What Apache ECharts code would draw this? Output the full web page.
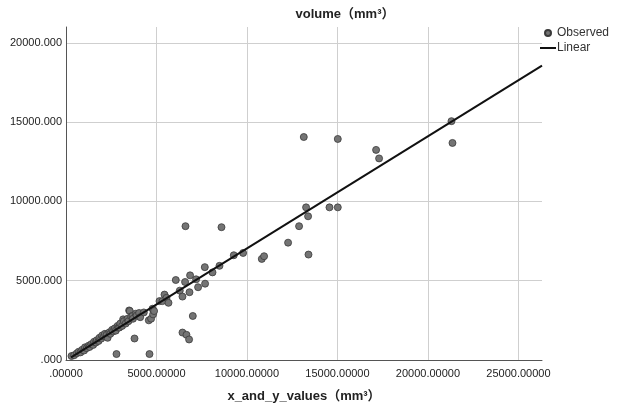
<!DOCTYPE html>
<html>
<head>
<meta charset="utf-8">
<script src="https://cdn.jsdelivr.net/npm/echarts@6/dist/echarts.min.js"></script>
<style>
  html, body { margin: 0; padding: 0; background: #fff; }
  #chart { width: 627px; height: 408px; }
</style>
</head>
<body>
<div id="chart"></div>
<script>
// observed points [x_and_y_values, volume]
const observed = [
  [304, 250], [450, 300], [600, 420], [700, 520], [800, 480], [900, 650],
  [1000, 600], [1050, 800], [1150, 750], [1250, 900], [1300, 820], [1400, 1000],
  [1500, 950], [1550, 1150], [1650, 1100], [1700, 1250], [1800, 1200], [1850, 1400],
  [1950, 1350], [2000, 1550], [2100, 1500], [2150, 1650], [2250, 1600], [2300, 1400],
  [2400, 1750], [2450, 1650], [2550, 1900], [2600, 1800], [2700, 2000], [2750, 1850],
  [2790, 375], [2850, 2150], [2901, 2044], [2950, 2050], [3000, 2300], [3100, 2150],
  [3157, 2563], [3200, 2450], [3300, 2300], [3400, 2600], [3450, 2450], [3489, 3125],
  [3525, 3088], [3600, 2750], [3674, 2775], [3700, 2600], [3785, 1356], [3856, 2919],
  [3900, 2800], [4039, 2963], [4100, 2700], [4300, 3000], [4575, 2500], [4613, 375],
  [4702, 2606], [4779, 3231], [4812, 2875], [4867, 3088], [5166, 3713], [5331, 3713],
  [5442, 4125], [5552, 3919], [5663, 3606], [6066, 5044], [6287, 4375], [6436, 4000],
  [6436, 1731], [6580, 4919], [6602, 8438], [6657, 1588], [6801, 1294], [6823, 4275],
  [6856, 5338], [7006, 2775], [7188, 5088], [7298, 4588], [7669, 5856], [7685, 4813],
  [8094, 5525], [8481, 5938], [8591, 8375], [9271, 6606], [9785, 6750], [10818, 6375],
  [10945, 6544], [12271, 7400], [12878, 8438], [13138, 14063], [13265, 9625], [13376, 9063],
  [13398, 6650], [14558, 9625], [15017, 9625], [15017, 13938], [17133, 13250], [17299, 12713],
  [21298, 15063], [21354, 13688]
];

// linear fit line end points
const fitX = [280, 26300];
const fitY = [170, 18560];

const xTicks = [0, 5000, 10000, 15000, 20000, 25000];
const yTicks = [0, 5000, 10000, 15000, 20000];

const font = "'Liberation Sans', 'Noto Sans CJK SC', sans-serif";

const chart = echarts.init(document.getElementById('chart'));

chart.setOption({
  animation: false,
  backgroundColor: '#fff',
  textStyle: { fontFamily: font },
  title: {
    text: 'volume（mm³）',
    left: 340,
    top: 3,
    textAlign: 'center',
    textStyle: { fontSize: 13, fontWeight: 'bold', color: '#222', fontFamily: font }
  },
  legend: {
    orient: 'vertical',
    left: 540,
    top: 27,
    padding: 0,
    itemGap: 3,
    itemWidth: 16,
    itemHeight: 6,
    textStyle: { fontSize: 12, color: '#333', padding: [0, 0, 0, -4] },
    data: [
      { name: 'Observed', icon: 'circle' },
      { name: 'Linear', icon: 'path://M0 0H16V2H0Z' }
    ]
  },
  grid: {
    left: 66,
    right: 85,
    top: 27,
    bottom: 45,
    containLabel: false
  },
  xAxis: {
    type: 'value',
    min: xTicks[0],
    max: 26300,
    interval: 5000,
    name: 'x_and_y_values（mm³）',
    nameLocation: 'middle',
    nameGap: 30,
    nameTextStyle: { fontSize: 13, fontWeight: 'bold', color: '#222' },
    axisLine: { show: true, lineStyle: { color: '#555', width: 1 } },
    axisTick: { show: false },
    axisLabel: {
      color: '#222',
      fontSize: 11,
      margin: 8,
      showMaxLabel: false,
      formatter: v => (xTicks.indexOf(v) < 0 ? '' : (v === 0 ? '.00000' : v.toFixed(5)))
    },
    splitLine: { show: true, showMinLine: false, showMaxLine: false, lineStyle: { color: '#cfcfcf', width: 1 } }
  },
  yAxis: {
    type: 'value',
    min: yTicks[0],
    max: 21000,
    interval: 5000,
    axisLine: { show: true, lineStyle: { color: '#555', width: 1 } },
    axisTick: { show: false },
    axisLabel: {
      color: '#222',
      fontSize: 11,
      margin: 4,
      showMaxLabel: false,
      formatter: v => (yTicks.indexOf(v) < 0 ? '' : (v === 0 ? '.000' : v.toFixed(3)))
    },
    splitLine: { show: true, showMinLine: false, showMaxLine: false, lineStyle: { color: '#cfcfcf', width: 1 } }
  },
  series: [
    {
      name: 'Observed',
      type: 'scatter',
      symbol: 'circle',
      symbolSize: 7,
      itemStyle: { color: '#747474', borderColor: '#3a3a3a', borderWidth: 0.8, opacity: 1 },
      data: observed,
      z: 2
    },
    {
      name: 'Linear',
      type: 'line',
      symbol: 'none',
      lineStyle: { color: '#111', width: 2 },
      itemStyle: { color: '#111' },
      data: fitX.map((x, i) => [x, fitY[i]]),
      z: 3
    }
  ]
});
</script>
</body>
</html>
